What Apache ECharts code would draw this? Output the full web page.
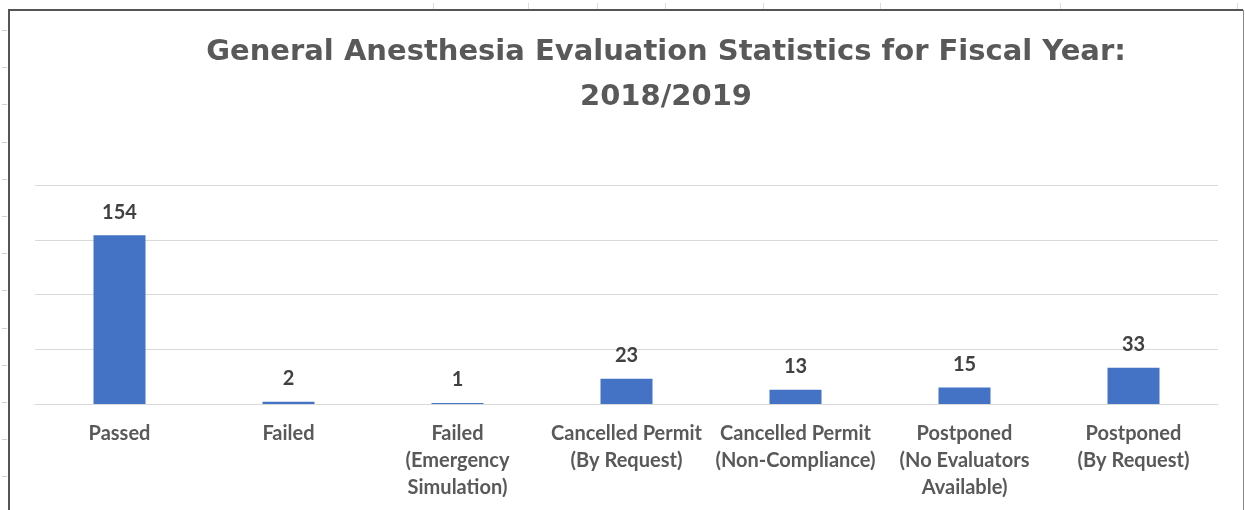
<!DOCTYPE html>
<html>
<head>
<meta charset="utf-8">
<script src="https://cdn.jsdelivr.net/npm/echarts@6/dist/echarts.min.js"></script>
<style>
  html, body { margin: 0; padding: 0; background: #fff; }
  #chart { width: 1245px; height: 510px; }
</style>
</head>
<body>
<div id="chart"></div>
<script>
// Evaluation outcomes for the fiscal year
const categories = [
  'Passed',
  'Failed',
  'Failed\n(Emergency\nSimulation)',
  'Cancelled Permit\n(By Request)',
  'Cancelled Permit\n(Non-Compliance)',
  'Postponed\n(No Evaluators\nAvailable)',
  'Postponed\n(By Request)'
];
const counts = [154, 2, 1, 23, 13, 15, 33];
const yTicks = [0, 50, 100, 150, 200];

const chart = echarts.init(document.getElementById('chart'), null, { renderer: 'canvas' });

// faint spreadsheet row marks to the left of the chart frame
const rowMarks = [];
for (let y = 30; y < 510; y += 37.2) {
  rowMarks.push({
    type: 'line', silent: true,
    shape: { x1: 2, y1: Math.round(y) + 0.5, x2: 7, y2: Math.round(y) + 0.5 },
    style: { stroke: '#d0d0d0', lineWidth: 1 }
  });
}
// faint column marks above the frame
[433, 528, 597, 665, 763, 880, 1060, 1237].forEach(function (x) {
  rowMarks.push({
    type: 'line', silent: true,
    shape: { x1: x + 0.5, y1: 3, x2: x + 0.5, y2: 9 },
    style: { stroke: '#dcdcdc', lineWidth: 1 }
  });
});

chart.setOption({
  backgroundColor: '#ffffff',
  animation: false,
  title: {
    text: 'General Anesthesia Evaluation Statistics for Fiscal Year:\n2018/2019',
    left: 661,
    top: 25,
    textAlign: 'center',
    textStyle: {
      fontFamily: 'DejaVu Sans',
      fontWeight: 'bold',
      fontSize: 29,
      lineHeight: 45,
      color: '#595959'
    }
  },
  grid: { left: 35, right: 27, top: 185, bottom: 106, containLabel: false },
  xAxis: {
    type: 'category',
    data: categories,
    axisLine: { lineStyle: { color: '#d9d9d9', width: 1 } },
    axisTick: { show: false },
    axisLabel: {
      interval: 0,
      margin: 16,
      fontFamily: 'Lato',
      fontWeight: 'bold',
      fontSize: 20,
      lineHeight: 27,
      color: '#595959'
    }
  },
  yAxis: {
    type: 'value',
    min: yTicks[0],
    max: yTicks[yTicks.length - 1],
    interval: 50,
    axisLine: { show: false },
    axisTick: { show: false },
    axisLabel: { show: false },
    splitLine: { lineStyle: { color: '#d9d9d9', width: 1 } }
  },
  series: [{
    type: 'bar',
    data: counts,
    barWidth: 52,
    itemStyle: { color: '#4472C4' },
    label: {
      show: true,
      position: 'top',
      distance: 13,
      fontFamily: 'Lato',
      fontWeight: 'bold',
      fontSize: 20,
      color: '#404040'
    }
  }],
  graphic: rowMarks.concat([
    {
      type: 'line', silent: true, z: 100,
      shape: { x1: 9, y1: 10, x2: 1243, y2: 10 },
      style: { stroke: '#555555', lineWidth: 2 }
    },
    {
      type: 'line', silent: true, z: 100,
      shape: { x1: 9, y1: 9, x2: 9, y2: 510 },
      style: { stroke: '#555555', lineWidth: 2 }
    },
    {
      type: 'line', silent: true, z: 100,
      shape: { x1: 1243.5, y1: 10, x2: 1243.5, y2: 510 },
      style: { stroke: '#8a8a8a', lineWidth: 1 }
    }
  ])
});
</script>
</body>
</html>
